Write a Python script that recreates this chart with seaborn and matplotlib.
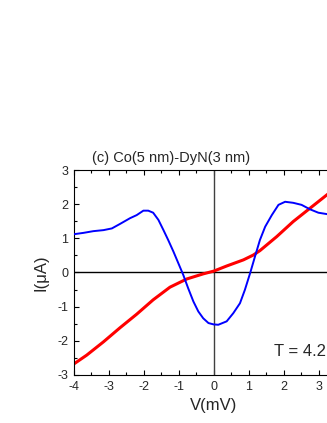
import numpy as np
import pandas as pd
import matplotlib
matplotlib.use("Agg")
from matplotlib import pyplot as plt
from matplotlib.ticker import MultipleLocator
import seaborn as sns

# blue curve
v_blue = [-4.0, -3.72, -3.44, -3.15, -2.91, -2.68, -2.39, -2.20, -2.01, -1.87,
          -1.73, -1.58, -1.44, -1.30, -1.15, -1.01, -0.87, -0.73, -0.58, -0.44,
          -0.30, -0.15, 0.0, 0.13, 0.37, 0.56, 0.75, 0.89, 1.04, 1.18,
          1.32, 1.47, 1.66, 1.85, 2.04, 2.27, 2.51, 2.75, 2.99, 3.23,
          3.6, 4.0]
i_blue = [1.12, 1.16, 1.21, 1.24, 1.29, 1.42, 1.59, 1.68, 1.81, 1.81,
          1.75, 1.54, 1.25, 0.95, 0.61, 0.27, -0.07, -0.46, -0.85, -1.14,
          -1.34, -1.48, -1.52, -1.53, -1.43, -1.19, -0.90, -0.51, -0.02, 0.47,
          0.95, 1.34, 1.68, 1.98, 2.07, 2.04, 1.98, 1.85, 1.75, 1.71,
          1.66, 1.62]

# red curve
v_red = [-4.0, -3.63, -3.15, -2.68, -2.20, -1.73, -1.25, -0.77, -0.30, 0.0,
         0.37, 0.85, 1.13, 1.32, 1.80, 2.27, 2.75, 3.23, 3.6, 4.0]
i_red = [-2.68, -2.42, -2.03, -1.62, -1.22, -0.80, -0.43, -0.19, -0.04, 0.04,
         0.19, 0.37, 0.51, 0.64, 1.05, 1.49, 1.88, 2.27, 2.56, 2.88]

sns.set_style("ticks")
plt.rcParams['font.family'] = ['Liberation Sans', 'DejaVu Sans']
plt.rcParams['axes.unicode_minus'] = False

fig = plt.figure(figsize=(3.27, 4.23), dpi=100)
# axes runs past the right edge, like the cropped original
ax = fig.add_axes([0.2254, 0.1135, 0.8563, 0.4846])

blue_df = pd.DataFrame({'V': v_blue, 'I': i_blue})
red_df = pd.DataFrame({'V': v_red, 'I': i_red})

ax.axvline(0, color='#404040', lw=1.0, zorder=1)
ax.axhline(0, color='black', lw=1.0, zorder=1)
sns.lineplot(x='V', y='I', data=blue_df, color='#0000ff', lw=1.4,
             estimator=None, sort=False, ax=ax, zorder=3)
sns.lineplot(x='V', y='I', data=red_df, color='#ff0000', lw=2.2,
             estimator=None, sort=False, ax=ax, zorder=2)

ax.set_xlim(-4, 4)
ax.set_ylim(-3, 3)
ax.xaxis.set_major_locator(MultipleLocator(1))
ax.xaxis.set_minor_locator(MultipleLocator(0.5))
ax.yaxis.set_major_locator(MultipleLocator(1))
ax.yaxis.set_minor_locator(MultipleLocator(0.5))
ax.tick_params(which='both', direction='in', top=True, right=True,
               labelsize=9, width=0.8, color='black')
ax.tick_params(which='major', length=3.5, pad=4)
ax.tick_params(which='minor', length=2)
for s in ax.spines.values():
    s.set_linewidth(0.8)
    s.set_color('black')

# the "4" label sits outside the visible area
fig.canvas.draw()
for lbl in ax.get_xticklabels():
    if lbl.get_text() == '4':
        lbl.set_visible(False)

ax.set_xlabel("V(mV)", fontsize=12, labelpad=4)
ax.set_ylabel("I(\u03bcA)", fontsize=12, labelpad=6)

ax.text(1.72, -2.32, "T = 4.2", fontsize=12, ha='left', va='center')
fig.text(0.281, 0.626, "(c) Co(5 nm)-DyN(3 nm)", fontsize=10.5,
         ha='left', va='center')

fig.savefig("out.png", dpi=100)
